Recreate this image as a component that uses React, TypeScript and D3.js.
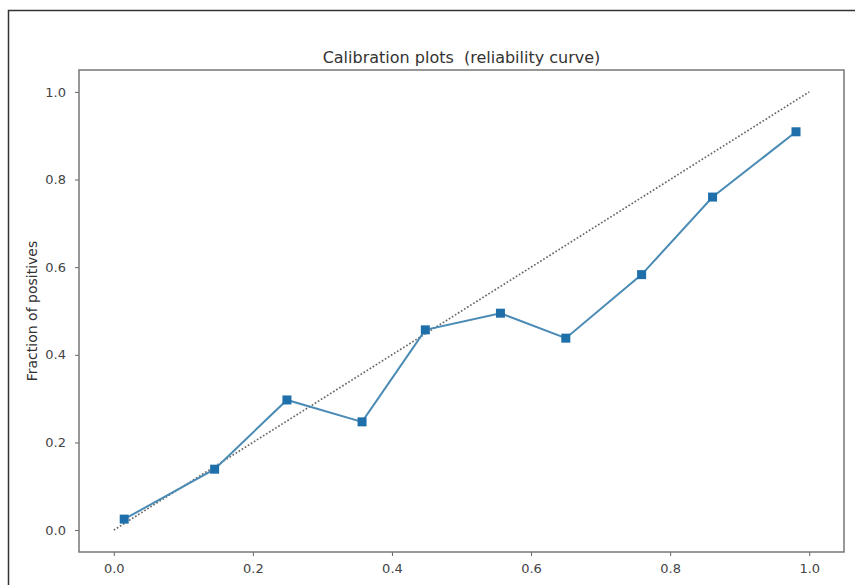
import React, { useEffect, useRef } from 'react';
import * as d3 from 'd3';

// mean predicted value (x) vs fraction of positives (y)
const meanPredicted = [0.015, 0.145, 0.249, 0.357, 0.448, 0.556, 0.65, 0.759, 0.861, 0.981];
const fractionPositives = [0.025, 0.139, 0.297, 0.247, 0.457, 0.495, 0.438, 0.583, 0.76, 0.909];
const perfect = [0, 1];
const ticks = [0, 0.2, 0.4, 0.6, 0.8, 1.0];

const App = () => {
  const svgRef = useRef<SVGSVGElement>(null);

  useEffect(() => {
    const svg = d3.select(svgRef.current);
    svg.selectAll('*').remove();

    const width = 855;
    const height = 585;
    const margin = { top: 70, right: 11, bottom: 33, left: 79 };
    const font = 'DejaVu Sans, sans-serif';

    svg.attr('width', width).attr('height', height);

    svg.append('rect').attr('width', width).attr('height', height).attr('fill', '#fff');

    // outer figure frame (top and left edges visible)
    svg.append('path')
      .attr('d', `M8.5,${height} V10.5 H${width}`)
      .attr('fill', 'none')
      .attr('stroke', '#333')
      .attr('stroke-width', 1.5);

    const x = d3.scaleLinear().domain([-0.05, 1.05]).range([margin.left, width - margin.right]);
    const y = d3.scaleLinear().domain([-0.05, 1.05]).range([height - margin.bottom, margin.top]);

    // perfectly calibrated diagonal
    svg.append('path')
      .datum(perfect)
      .attr('d', d3.line<number>().x(d => x(d)).y(d => y(d)))
      .attr('fill', 'none')
      .attr('stroke', '#6a6a6a')
      .attr('stroke-width', 1.7)
      .attr('stroke-dasharray', '1.7 1.9');

    const pts = meanPredicted.map((v, i) => [v, fractionPositives[i]] as [number, number]);

    svg.append('path')
      .datum(pts)
      .attr('d', d3.line<[number, number]>().x(d => x(d[0])).y(d => y(d[1])))
      .attr('fill', 'none')
      .attr('stroke', '#4a8bb5')
      .attr('stroke-width', 2);

    svg.append('g')
      .selectAll('rect')
      .data(pts)
      .join('rect')
      .attr('x', d => x(d[0]) - 4.5)
      .attr('y', d => y(d[1]) - 4.5)
      .attr('width', 9)
      .attr('height', 9)
      .attr('fill', '#1f6fab');

    const xAxis = svg.append('g')
      .attr('transform', `translate(0,${height - margin.bottom})`)
      .call(d3.axisBottom(x).tickValues(ticks).tickFormat(d3.format('.1f')).tickSize(4).tickPadding(8));
    const yAxis = svg.append('g')
      .attr('transform', `translate(${margin.left},0)`)
      .call(d3.axisLeft(y).tickValues(ticks).tickFormat(d3.format('.1f')).tickSize(4).tickPadding(9));

    [xAxis, yAxis].forEach(g => {
      g.select('.domain').remove();
      g.selectAll('line').attr('stroke', '#666');
      g.selectAll('text').attr('fill', '#444').style('font-family', font).style('font-size', '13px');
    });

    // axes frame
    svg.append('rect')
      .attr('x', margin.left)
      .attr('y', margin.top)
      .attr('width', width - margin.left - margin.right)
      .attr('height', height - margin.bottom - margin.top)
      .attr('fill', 'none')
      .attr('stroke', '#777')
      .attr('stroke-width', 1.5);

    svg.append('text')
      .attr('x', (margin.left + width - margin.right) / 2)
      .attr('y', 63)
      .attr('text-anchor', 'middle')
      .attr('fill', '#333')
      .style('font-family', font)
      .style('font-size', '16px')
      .style('white-space', 'pre')
      .text('Calibration plots  (reliability curve)');

    svg.append('text')
      .attr('transform', `translate(37,${(margin.top + height - margin.bottom) / 2}) rotate(-90)`)
      .attr('text-anchor', 'middle')
      .attr('fill', '#333')
      .style('font-family', font)
      .style('font-size', '14px')
      .text('Fraction of positives');
  }, []);

  return <svg ref={svgRef} style={{ position: 'absolute', left: 0, top: 0 }}></svg>;
};

export default App;
